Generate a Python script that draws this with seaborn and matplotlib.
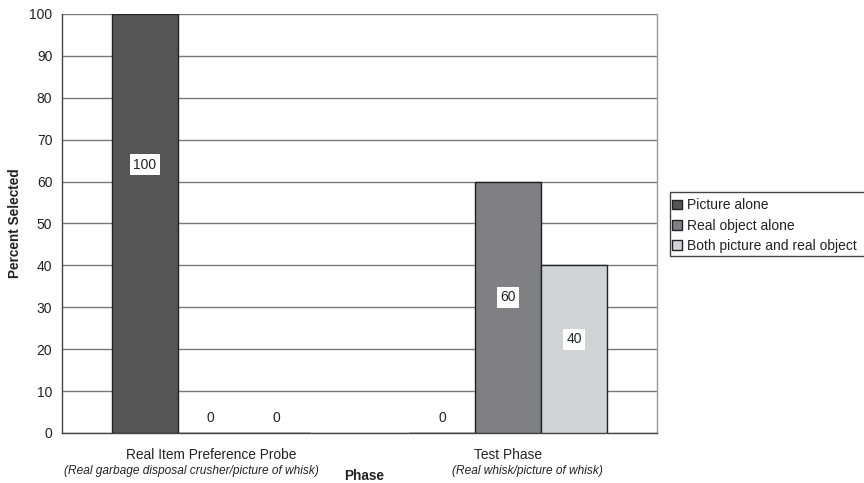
import matplotlib
matplotlib.use("Agg")
import matplotlib.pyplot as plt
from matplotlib.patches import Patch, Rectangle
import seaborn as sns
import pandas as pd

phases = ["Real Item Preference Probe", "Test Phase"]
subtitles = ["(Real garbage disposal crusher/picture of whisk)",
             "(Real whisk/picture of whisk)"]
responses = ["Picture alone", "Real object alone", "Both picture and real object"]
values = [[100, 0, 0],
          [0, 60, 40]]
colors = ["#555555", "#808083", "#d2d3d5"]
yticks = list(range(0, 101, 10))

rows = []
for p, vals in zip(phases, values):
    for r, v in zip(responses, vals):
        rows.append({"Phase": p, "Response": r, "Percent": v})
df = pd.DataFrame(rows)

sns.set_theme(style="white")
plt.rcParams["font.family"] = ["Liberation Sans", "DejaVu Sans"]

fig = plt.figure(figsize=(8.64, 4.83), dpi=100)
ax = fig.add_axes([62 / 864, 50 / 483, 595 / 864, 419 / 483])

bar_w = 0.664
sns.barplot(data=df, x="Phase", y="Percent", hue="Response", order=phases,
            hue_order=responses, palette=colors, width=bar_w, dodge=True,
            edgecolor="#222222", linewidth=1.0, legend=False, ax=ax, zorder=3)

ax.set_xlim(-0.5, 1.5)
ax.set_ylim(0, 100)
ax.set_yticks(yticks)
ax.set_yticklabels([str(t) for t in yticks], fontsize=10, color="#222222")
ax.yaxis.grid(True, color="#7a7a7a", linewidth=1.0, zorder=0)
ax.set_axisbelow(True)

# category tick marks sit between and at the ends of the groups
ax.set_xticks([0.5, 1.5])
ax.set_xticklabels(["", ""])
ax.tick_params(axis="x", direction="out", length=4, width=1, color="#555555")
ax.tick_params(axis="y", direction="out", length=4, width=1, color="#555555", pad=3)

for side in ["left", "bottom", "right"]:
    ax.spines[side].set_visible(True)
    ax.spines[side].set_color("#444444")
    ax.spines[side].set_linewidth(1.0)
ax.spines["right"].set_color("#999999")
ax.spines["top"].set_visible(False)

# category names with italic descriptions below the axis
sub_shift = [-0.064, 0.066]
for i, (p, s) in enumerate(zip(phases, subtitles)):
    ax.text(i, -3.6, p, ha="center", va="top", fontsize=9.9, color="#222222",
            transform=ax.transData, clip_on=False)
    ax.text(i + sub_shift[i], -7.6, s, ha="center", va="top", fontsize=8.6,
            style="italic", color="#222222", transform=ax.transData,
            clip_on=False)

ax.set_xlabel("")
ax.set_ylabel("")
fig.text(15 / 864, 1 - 223 / 483, "Percent Selected", rotation=90, ha="center",
         va="center", fontsize=9.8, fontweight="bold", color="#222222")
fig.text(364 / 864, 1 - 476 / 483, "Phase", ha="center", va="center",
         fontsize=9.8, fontweight="bold", color="#222222")

# value labels inside each bar
label_frac = {100: 0.64, 60: 0.54, 40: 0.56}
offsets = [-bar_w / 3, 0, bar_w / 3]
for i, vals in enumerate(values):
    for j, v in enumerate(vals):
        x = i + offsets[j]
        y = v * label_frac[v] if v > 0 else 3.6
        ax.text(x, y, str(v), ha="center", va="center", fontsize=10,
                color="#222222", zorder=5,
                bbox=dict(boxstyle="square,pad=0.25", facecolor="white",
                          edgecolor="none"))

# legend box runs off the right edge of the figure
fig.add_artist(Rectangle((670 / 864, 1 - 256 / 483), 0.3, 64 / 483,
                         transform=fig.transFigure, facecolor="white",
                         edgecolor="#444444", linewidth=1.0, clip_on=False))
handles = [Patch(facecolor=c, edgecolor="#222222", linewidth=1.0) for c in colors]
leg = fig.legend(handles, responses, loc="upper left",
                 bbox_to_anchor=(669 / 864, 1 - 195 / 483), frameon=False,
                 fontsize=10, handlelength=0.7, handleheight=0.7,
                 handletextpad=0.35, borderpad=0.25, labelspacing=0.45,
                 borderaxespad=0)
for t in leg.get_texts():
    t.set_color("#222222")

fig.savefig("out.png", dpi=100)
